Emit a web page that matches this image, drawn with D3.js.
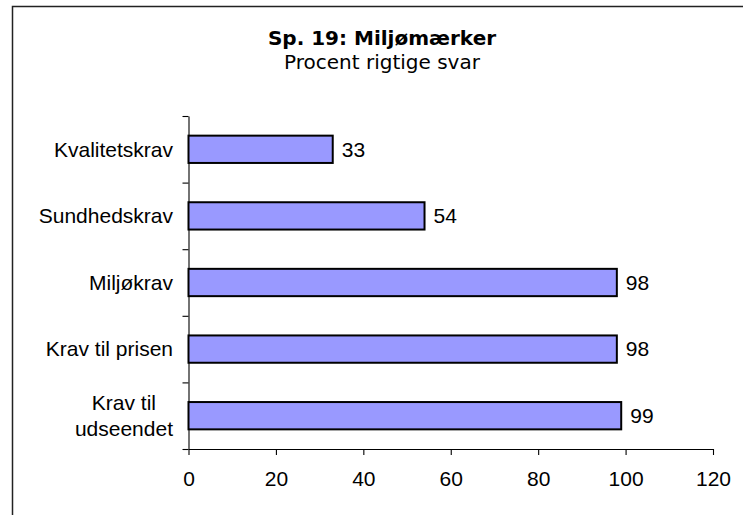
<!DOCTYPE html>
<html>
<head>
<meta charset="utf-8">
<script src="https://cdn.jsdelivr.net/npm/d3@7"></script>
<style>
  body { margin: 0; background: #fff; }
  svg { display: block; }
  .axis path, .axis line { stroke: #000; stroke-width: 1.1; }
  .axis text { font-family: "Liberation Sans", Arial, sans-serif; font-size: 21px; fill: #000; }
</style>
</head>
<body>
<div id="chart"></div>
<script>
const title = 'Sp. 19: Miljømærker';
const subtitle = 'Procent rigtige svar';
const categories = ['Kvalitetskrav', 'Sundhedskrav', 'Miljøkrav', 'Krav til prisen', 'Krav til udseendet'];
const values = [33, 54, 98, 98, 99];
const xTicks = [0, 20, 40, 60, 80, 100, 120];

const width = 743;
const height = 515;
const margin = { top: 116, right: 30, bottom: 66, left: 188.5 };

const svg = d3.select('#chart').append('svg')
  .attr('width', width)
  .attr('height', height);

// chart frame (runs off the right and bottom edges)
svg.append('rect')
  .attr('x', 12.5)
  .attr('y', 6.5)
  .attr('width', 760)
  .attr('height', 540)
  .attr('fill', '#fff')
  .attr('stroke', '#222')
  .attr('stroke-width', 1.5);

svg.append('text')
  .attr('x', 382)
  .attr('y', 45)
  .attr('text-anchor', 'middle')
  .style('font-family', '"DejaVu Sans", Verdana, sans-serif')
  .style('font-weight', 'bold')
  .style('font-size', '20px')
  .text(title);

svg.append('text')
  .attr('x', 382)
  .attr('y', 69)
  .attr('text-anchor', 'middle')
  .style('font-family', '"DejaVu Sans", Verdana, sans-serif')
  .style('font-size', '20px')
  .text(subtitle);

const x = d3.scaleLinear()
  .domain([0, 120])
  .range([margin.left, width - margin.right]);

const y = d3.scaleBand()
  .domain(categories)
  .range([margin.top, height - margin.bottom])
  .paddingInner(0.59)
  .paddingOuter(0.295);

// boundaries between the categories, for the y tick marks
const yEdge = d3.scaleLinear()
  .domain([0, categories.length])
  .range([margin.top, height - margin.bottom]);

svg.append('g')
  .attr('class', 'axis')
  .attr('transform', `translate(${margin.left},0)`)
  .call(d3.axisLeft(yEdge).tickValues(d3.range(categories.length + 1)).tickSize(6).tickSizeOuter(0).tickFormat(''));

svg.append('g')
  .attr('class', 'axis')
  .attr('transform', `translate(0,${height - margin.bottom})`)
  .call(d3.axisBottom(x).tickValues(xTicks).tickSize(6).tickSizeOuter(0).tickPadding(16));

svg.selectAll('rect.bar')
  .data(values)
  .enter().append('rect')
  .attr('class', 'bar')
  .attr('x', x(0))
  .attr('y', (d, i) => y(categories[i]))
  .attr('width', d => x(d) - x(0))
  .attr('height', y.bandwidth())
  .attr('fill', '#9999ff')
  .attr('stroke', '#000')
  .attr('stroke-width', 2);

svg.selectAll('text.value')
  .data(values)
  .enter().append('text')
  .attr('class', 'value')
  .attr('x', d => x(d) + 9)
  .attr('y', (d, i) => y(categories[i]) + y.bandwidth() / 2)
  .attr('dy', '.35em')
  .style('font-family', '"Liberation Sans", Arial, sans-serif')
  .style('font-size', '21px')
  .text(d => d);

// category labels, wrapped onto two lines when too wide
const labelRight = margin.left - 15.5;
const maxLabel = 150;
const lineHeight = 26;

categories.forEach(cat => {
  const g = svg.append('g');
  const t = g.append('text')
    .style('font-family', '"Liberation Sans", Arial, sans-serif')
    .style('font-size', '21px')
    .text(cat);
  let lines = [cat];
  if (t.node().getComputedTextLength() > maxLabel) {
    lines = [];
    let cur = '';
    cat.split(' ').forEach(w => {
      const next = cur ? cur + ' ' + w : w;
      t.text(next);
      if (t.node().getComputedTextLength() > maxLabel && cur) {
        lines.push(cur);
        cur = w;
      } else {
        cur = next;
      }
    });
    lines.push(cur);
  }
  t.remove();

  const cy = y(cat) + y.bandwidth() / 2;
  const texts = g.selectAll('text')
    .data(lines)
    .enter().append('text')
    .attr('y', (d, i) => cy + (i - (lines.length - 1) / 2) * lineHeight)
    .attr('dy', '.35em')
    .style('font-family', '"Liberation Sans", Arial, sans-serif')
    .style('font-size', '21px')
    .text(d => d);
  const w = d3.max(texts.nodes(), n => n.getComputedTextLength());
  texts.attr('x', labelRight - w / 2).attr('text-anchor', 'middle');
});
</script>
</body>
</html>
